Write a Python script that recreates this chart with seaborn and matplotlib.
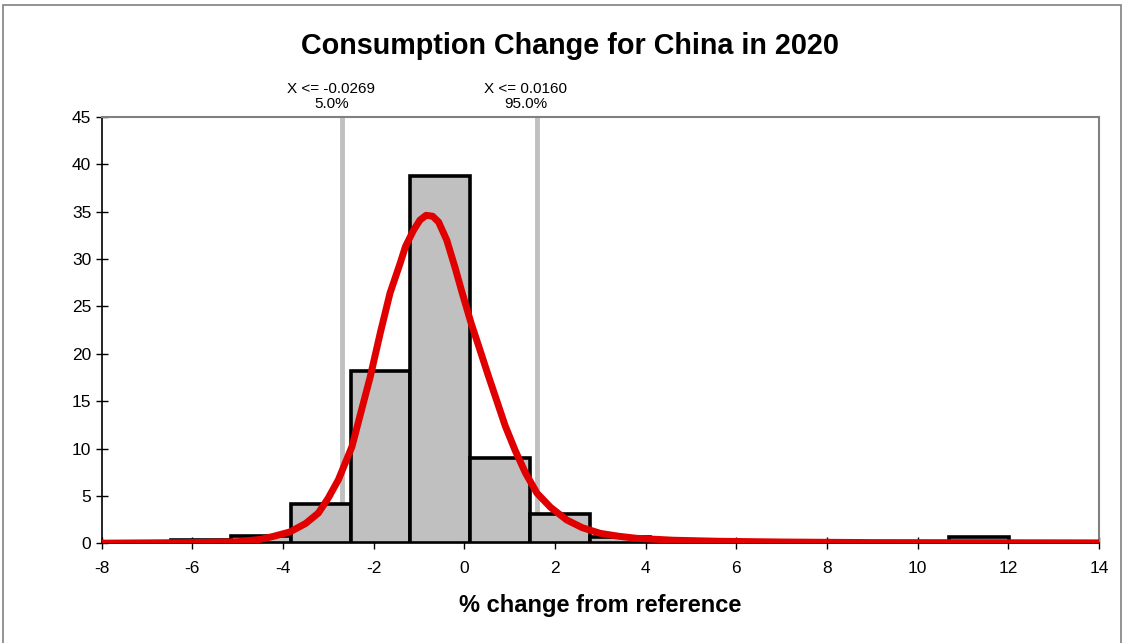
import numpy as np
import matplotlib
matplotlib.use("Agg")
import matplotlib.pyplot as plt
import seaborn as sns
from matplotlib.patches import Rectangle

# histogram bins (% change) and bar heights
bin_edges = [-6.47, -5.15, -3.83, -2.51, -1.19, 0.13, 1.45, 2.77, 4.09,
             5.41, 6.73, 8.05, 9.37, 10.69, 12.01]
bar_heights = [0.35, 0.75, 4.15, 18.2, 38.7, 9.05, 3.1, 0.7,
               0.0, 0.0, 0.0, 0.0, 0.0, 0.7]

# fitted curve
curve_x = [-8.0, -6.0, -5.0, -4.5, -4.2, -3.85, -3.5, -3.22, -3.0, -2.78,
           -2.48, -2.3, -2.08, -1.85, -1.64, -1.42, -1.3, -1.125, -0.98,
           -0.845, -0.70, -0.57, -0.39, -0.2, -0.06, 0.15, 0.35, 0.52, 0.71,
           0.9, 1.12, 1.35, 1.60, 1.9, 2.26, 2.6, 3.0, 3.4, 3.8, 4.6, 5.6,
           7.0, 9.0, 14.0]
curve_y = [0.02, 0.08, 0.17, 0.42, 0.75, 1.2, 2.1, 3.2, 4.8, 6.7,
           10.2, 13.5, 17.5, 22.3, 26.4, 29.5, 31.3, 33.0, 34.1,
           34.6, 34.5, 33.9, 32.0, 29.0, 26.6, 23.2, 20.3, 17.8, 15.1,
           12.4, 9.8, 7.4, 5.3, 3.8, 2.46, 1.65, 1.05, 0.75, 0.53, 0.33, 0.22,
           0.14, 0.08, 0.05]

# percentile markers
marker_x = [-2.69, 1.60]
marker_labels = ["X <= -0.0269\n5.0%", "X <= 0.0160\n95.0%"]

x_ticks = list(range(-8, 15, 2))
y_ticks = list(range(0, 46, 5))

sns.set_theme(style="white")
plt.rcParams["font.family"] = ["Liberation Sans", "DejaVu Sans"]
plt.rcParams.update({
    "text.color": "black",
    "axes.labelcolor": "black",
    "xtick.color": "black",
    "ytick.color": "black",
    "axes.unicode_minus": False,
})

fig = plt.figure(figsize=(11.24, 6.43), dpi=100)
ax = fig.add_axes([0.0905, 0.155, 0.8873, 0.6635])

for mx in marker_x:
    ax.axvline(mx, color="#C0C0C0", linewidth=3.5, zorder=1)

centers = [(a + b) / 2 for a, b in zip(bin_edges[:-1], bin_edges[1:])]
sns.histplot(x=centers, weights=bar_heights, bins=bin_edges, ax=ax,
             color="#C0C0C0", edgecolor="black", linewidth=2.6, alpha=1,
             zorder=2)

sns.lineplot(x=curve_x, y=curve_y, ax=ax, color="#E00000", linewidth=5,
             zorder=3, solid_joinstyle="round", solid_capstyle="round")

for mx, lab in zip(marker_x, marker_labels):
    ax.annotate(lab, xy=(mx, 1.0), xycoords=("data", "axes fraction"),
                xytext=(-8, 4), textcoords="offset points",
                ha="center", va="bottom", fontsize=11, linespacing=1.1,
                multialignment="center")

ax.set_xlim(-8, 14)
ax.set_ylim(0, 45)
ax.set_xticks(x_ticks)
ax.set_yticks(y_ticks)
ax.set_ylabel("")
ax.set_xlabel("% change from reference", fontsize=17, fontweight="bold",
              labelpad=13)
ax.tick_params(axis="both", which="both", direction="inout", length=8,
               width=1, labelsize=12.5, color="black", bottom=True, left=True)
ax.tick_params(axis="x", pad=9)
ax.grid(False)

for side in ["left", "bottom"]:
    ax.spines[side].set_color("black")
    ax.spines[side].set_linewidth(1.2)
for side in ["top", "right"]:
    ax.spines[side].set_color("#808080")
    ax.spines[side].set_linewidth(1.5)

fig.text(0.507, 0.929, "Consumption Change for China in 2020",
         ha="center", va="center", fontsize=20.7, fontweight="bold")

fig.patches.append(Rectangle((3 / 1124, -0.01), 1118 / 1124, 1 - 5 / 643 + 0.01,
                             transform=fig.transFigure, fill=False,
                             edgecolor="#808080", linewidth=1.2))

fig.savefig("out.png", dpi=100)
